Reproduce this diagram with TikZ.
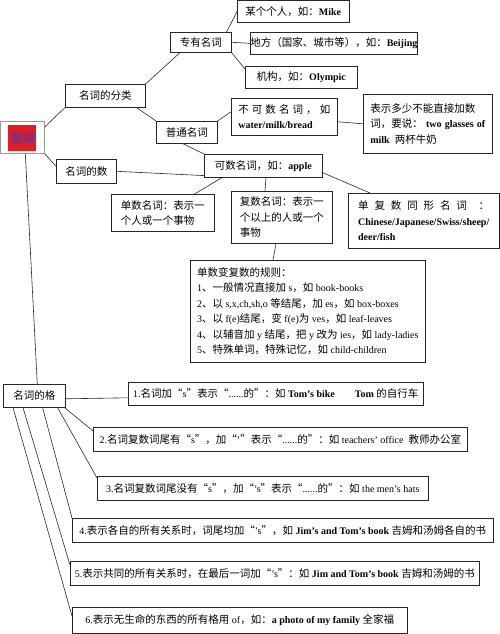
\documentclass[tikz,border=0pt]{standalone}
\usepackage{fontspec}
\usepackage{tikz}
\usetikzlibrary{shadows}
\setmainfont{Liberation Serif}
\newfontfamily\cjkfont{Noto Sans CJK SC}[Scale=1.05]
\newcommand\latinfont{\rmfamily}
\definecolor{nounred}{HTML}{E41B23}
\definecolor{nounpurple}{HTML}{5B3A9C}
\definecolor{boxline}{HTML}{262626}

\newXeTeXintercharclass\cjkclass
\newcount\cjkcode
\def\setcjkrange#1#2{\cjkcode=#1 \loop\XeTeXcharclass\cjkcode=\cjkclass
  \ifnum\cjkcode<#2 \advance\cjkcode by 1 \repeat}
\setcjkrange{"4E00}{"9FFF}
\setcjkrange{"3000}{"303F}
\setcjkrange{"FF00}{"FFEF}
\XeTeXcharclass"201C=\cjkclass
\XeTeXcharclass"201D=\cjkclass
\XeTeXinterchartoks 0 \cjkclass = {\cjkfont}
\XeTeXinterchartoks 4095 \cjkclass = {\cjkfont}
\XeTeXinterchartoks \cjkclass 0 = {\latinfont}
\XeTeXinterchartoks \cjkclass 4095 = {\latinfont}
\XeTeXinterchartokenstate=1

\begin{document}
\begin{tikzpicture}[x=1pt,y=-1pt,
  box/.style={draw=boxline, line width=0.6pt, fill=white, anchor=north west, inner sep=0pt,
    drop shadow={shadow xshift=0.9pt,shadow yshift=-0.9pt,opacity=0.6},
    font=\fontsize{10}{15.5}\selectfont},
  para/.style={box, align=left},
  link/.style={draw=black!85, line width=0.6pt}]
  \useasboundingbox (0,0) rectangle (500,634);
  \node[draw=black!40, line width=0.6pt, fill=white, anchor=north west,
    minimum width=44pt, minimum height=32pt] (root) at (0,121) {};
  \node[fill=nounred, minimum width=28pt, minimum height=26pt, inner sep=0pt, text=nounpurple,
    font=\fontsize{11}{11}\selectfont\bfseries] (rootlabel) at ([yshift=-1pt]root.center) {名词};

  \node[box, minimum width=80pt, minimum height=23pt] (fenlei) at (65,84) {名词的分类};
  \node[box, minimum width=61pt, minimum height=20pt] (zhuanyou) at (170,32) {专有名词};
  \node[box, minimum width=112pt, minimum height=21.5pt] (mike) at (237,0.5) {某个个人，如：\textbf{Mike}};
  \node[box, minimum width=167pt, minimum height=22pt] (difang) at (250,32) {地方（国家、城市等），如：\textbf{Beijing}};
  \node[box, minimum width=112pt, minimum height=22pt] (jigou) at (245,66) {机构，如：\textbf{Olympic}};
  \node[box, minimum width=61pt, minimum height=22pt] (putong) at (156,121) {普通名词};
  \node[para, minimum width=106pt, minimum height=37pt] (bukeshu) at (231,98)
    {\makebox[92pt][s]{不 可 数 名 词 ， 如}\\\textbf{water/milk/bread}};
  \node[para, minimum width=129pt, minimum height=59pt] (biaoshi) at (363,94)
    {表示多少不能直接加数\\\makebox[115pt][s]{词，要说： \textbf{two glasses of}}\\\textbf{milk} \ 两杯牛奶};
  \node[box, minimum width=60pt, minimum height=24pt] (shu) at (56,159) {名词的数};
  \node[box, minimum width=118pt, minimum height=23pt] (keshu) at (204,154) {可数名词，如：\textbf{apple}};
  \node[para, minimum width=103pt, minimum height=37pt] (danshu) at (111,194) {单数名词：表示一\\个人或一个事物};
  \node[para, minimum width=101pt, minimum height=52pt] (fushu) at (231,191) {复数名词：表示一\\个以上的人或一个\\事物};
  \node[para, minimum width=151pt, minimum height=55pt] (tongxing) at (348,193)
    {\makebox[131pt][s]{单 复 数 同 形 名 词 \ ：}\\\textbf{Chinese/Japanese/Swiss/sheep/}\\\textbf{deer/fish}};
  \node[para, minimum width=235pt, minimum height=102pt] (guize) at (190,260)
    {单数变复数的规则：\\
     1、一般情况直接加 s，如 book-books\\
     2、以 s,x,ch,sh,o 等结尾，加 es，如 box-boxes\\
     3、以 f(e)结尾，变 f(e)为 ves，如 leaf-leaves\\
     4、以辅音加 y 结尾，把 y 改为 ies，如 lady-ladies\\
     5、特殊单词，特殊记忆，如 child-children};

  \node[box, minimum width=62pt, minimum height=23pt] (ge) at (3,384) {名词的格};
  \node[box, minimum width=295pt, minimum height=23pt] (case1) at (128,382)
    {1.名词加“s”表示“......的”：如 \textbf{Tom's bike}\quad\quad\textbf{Tom} 的自行车};
  \node[box, minimum width=374pt, minimum height=24pt] (case2) at (93,427)
    {2.名词复数词尾有“s”，加“'”表示“......的”：如 teachers' office \ 教师办公室};
  \node[box, minimum width=331pt, minimum height=24pt] (case3) at (97,476)
    {3.名词复数词尾没有“s”，加“'s”表示“......的”：如 the men's hats};
  \node[box, minimum width=421pt, minimum height=24pt] (case4) at (72,518)
    {4.表示各自的所有关系时，词尾均加“'s”，如 \textbf{Jim's and Tom's book} 吉姆和汤姆各自的书};
  \node[box, minimum width=409pt, minimum height=24pt] (case5) at (70,561)
    {5.表示共同的所有关系时，在最后一词加“'s”：如 \textbf{Jim and Tom's book} 吉姆和汤姆的书};
  \node[box, minimum width=335pt, minimum height=26pt] (case6) at (72,607)
    {6.表示无生命的东西的所有格用 of，如：\textbf{a photo of my family} 全家福};

  \draw[link] ([yshift=-6pt]root.north east) -- (fenlei.south west);
  \draw[link] (root.south east) -- ([yshift=5pt]shu.west);
  \draw[link] ([xshift=3pt]root.south) -- ([xshift=3pt]ge.north);
  \draw[link] (fenlei.north east) -- ([xshift=10pt]zhuanyou.south west);
  \draw[link] ([xshift=-9pt]fenlei.south east) -- (putong.north west);
  \draw[link] ([xshift=-5pt]zhuanyou.north east) -- (mike.west);
  \draw[link] (zhuanyou.east) -- (difang.west);
  \draw[link] (zhuanyou.south east) -- ([yshift=-3pt]jigou.north west);
  \draw[link] (putong.north east) -- ([yshift=5pt]bukeshu.west);
  \draw[link] ([xshift=-4pt]putong.south) -- (keshu.north west);
  \draw[link] ([yshift=-5pt]bukeshu.east) -- (biaoshi.west);
  \draw[link] (shu.east) -- ([yshift=2pt]keshu.south west);
  \draw[link] ([xshift=18pt]keshu.south west) -- ([xshift=-20pt]danshu.north east);
  \draw[link] ([xshift=62pt]keshu.south west) -- ([xshift=34pt]fushu.north west);
  \draw[link] ([yshift=5pt]keshu.south east) -- ([xshift=22pt]tongxing.north west);
  \draw[link] ([xshift=45pt]fushu.south west) -- ([xshift=83pt]guize.north west);
  \draw[link] ([yshift=-3pt]ge.east) -- ([yshift=-4pt]case1.west);
  \draw[link] ([xshift=-1pt]ge.south east) -- ([yshift=-4pt]case2.north west);
  \draw[link] ([xshift=-8pt]ge.south east) -- ([yshift=-2pt]case3.north west);
  \draw[link] ([xshift=-23pt]ge.south east) -- (case4.north west);
  \draw[link] ([xshift=20pt]ge.south west) -- ([yshift=-4pt]case5.north west);
  \draw[link] ([xshift=10pt]ge.south west) -- ([yshift=-9pt]case6.north west);
\end{tikzpicture}
\end{document}
